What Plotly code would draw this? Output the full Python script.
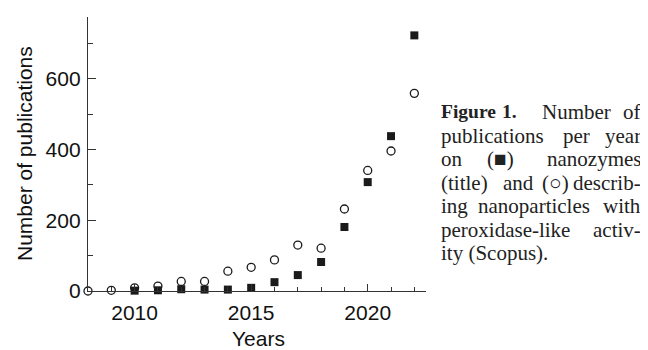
import plotly.graph_objects as go

# ---- data ----
years = list(range(2008, 2023))
nanozymes = [None, None, 1, 2, 5, 4, 4, 9, 25, 45, 82, 181, 308, 438, 723]
peroxidase = [0, 2, 9, 14, 27, 27, 56, 67, 88, 130, 121, 232, 341, 396, 559]

x_ticks = [2010, 2015, 2020]
y_ticks = [0, 200, 400, 600]

# the page body has an 8px margin, so the figure is drawn 8px in from the corner
OFF = 8
W, H = 648 - OFF, 350 - OFF
L, R, T, B = 88 - OFF, 426 - OFF, 17 - OFF, 291 - OFF  # plot area in figure pixels

def px(x):  # page pixel -> paper
    return (x - OFF - L) / (R - L)

def py(y):
    return (B - (y - OFF)) / (B - T)

ink = "#1a1a1a"
fig = go.Figure()
fig.add_trace(go.Scatter(
    x=years, y=peroxidase, mode="markers", cliponaxis=False,
    marker=dict(symbol="circle-open", size=8, color=ink, line=dict(width=1.3, color=ink)),
    showlegend=False))
fig.add_trace(go.Scatter(
    x=years, y=nanozymes, mode="markers", cliponaxis=False,
    marker=dict(symbol="square", size=8, color=ink, line=dict(width=0)),
    showlegend=False))

axis_common = dict(showline=True, linecolor="#333", linewidth=1.3, showgrid=False,
                   zeroline=False, ticks="inside", tickcolor="#333", tickwidth=1.2,
                   tickfont=dict(family="Liberation Sans", size=21, color="#111"))
fig.update_xaxes(range=[2008, 2022.5], tickvals=x_ticks, ticklen=7,
                 minor=dict(ticks="inside", dtick=1, tick0=2008, ticklen=4, tickcolor="#333", tickwidth=1.2),
                 ticklabelstandoff=3, **axis_common)
fig.update_yaxes(range=[0, 775], tickvals=y_ticks, ticklen=8,
                 minor=dict(ticks="inside", dtick=100, tick0=0, ticklen=5, tickcolor="#333", tickwidth=1.2),
                 ticklabelstandoff=2, **axis_common)

ann = []
ann.append(dict(text="Number of publications", x=px(24), y=py(154), xref="paper", yref="paper",
                textangle=-90, showarrow=False, xanchor="center", yanchor="middle",
                font=dict(family="Liberation Sans", size=21, color="#111")))
ann.append(dict(text="Years", x=px(258), y=py(338), xref="paper", yref="paper",
                showarrow=False, xanchor="center", yanchor="middle",
                font=dict(family="Liberation Sans", size=21, color="#111")))

# caption, justified: (text, anchor, page pixel x, font size)
cap_left, cap_right = 439, 643
caption = [
    [("<b>Figure</b>", "left", cap_left, 19.5), ("<b>1.</b>", "center", 509, 19.5),
     ("Number", "center", 576, 21), ("of", "right", cap_right, 21)],
    [("publications", "left", cap_left, 21), ("per", "center", 576, 21), ("year", "right", cap_right, 21)],
    [("on", "left", cap_left, 21), ("(■)", "center", 501, 21), ("nanozymes", "right", cap_right, 21)],
    [("(title)", "left", cap_left, 21), ("and", "center", 518.5, 21), ("(○)", "center", 555, 21),
     ("describ-", "right", cap_right, 21)],
    [("ing", "left", cap_left, 21), ("nanoparticles", "center", 534, 21), ("with", "right", cap_right, 21)],
    [("peroxidase-like", "left", cap_left, 21), ("activ-", "right", cap_right, 21)],
    [("ity (Scopus).", "left", cap_left, 21)],
]
for i, line in enumerate(caption):
    yy = 112 + 23.5 * i
    for txt, anc, xx, fs in line:
        ann.append(dict(text=txt, x=px(xx), y=py(yy), xref="paper", yref="paper",
                        showarrow=False, xanchor=anc, yanchor="middle",
                        font=dict(family="Liberation Serif", size=fs, color="#222")))

fig.update_layout(width=W, height=H, margin=dict(l=L, r=W - R, t=T, b=H - B),
                  paper_bgcolor="white", plot_bgcolor="white", annotations=ann)
fig.write_html("out.html")
